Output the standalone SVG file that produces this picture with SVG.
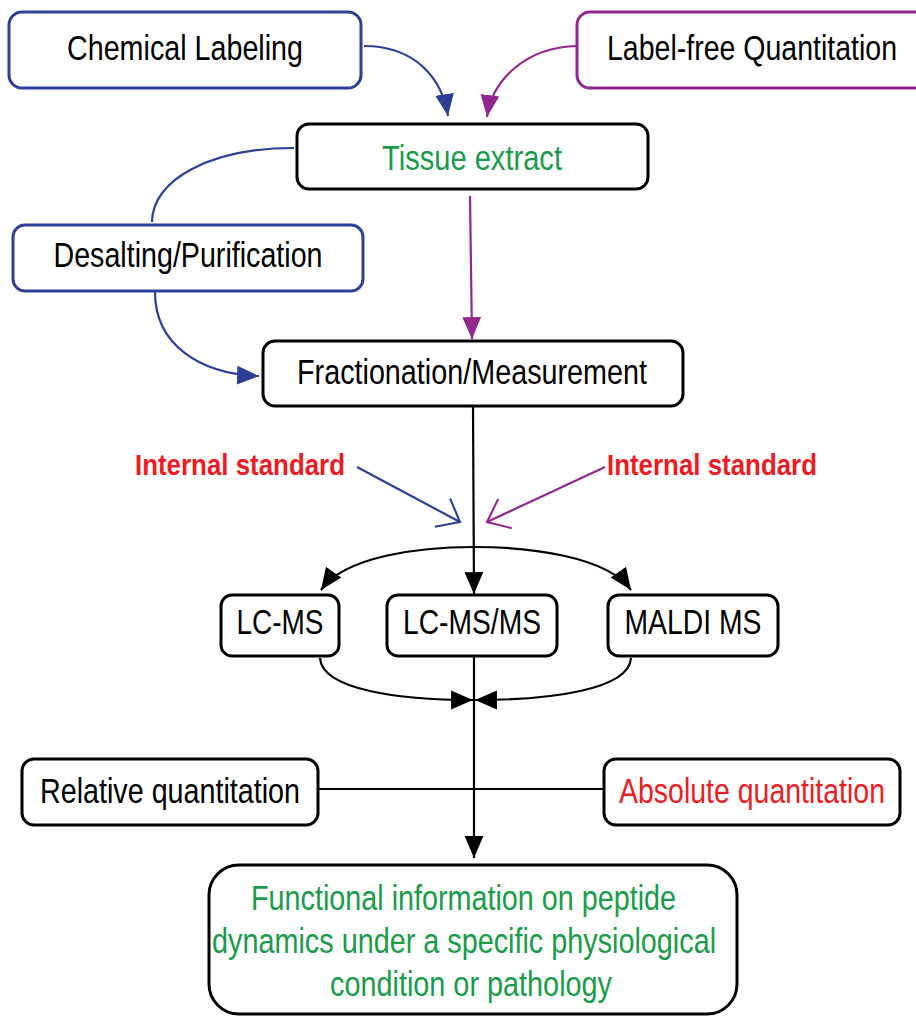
<svg xmlns="http://www.w3.org/2000/svg" width="916" height="1017" viewBox="0 0 916 1017">
<style>
.box{fill:#fff;stroke-width:3}
.k{stroke:#000}
.b{stroke:#2e3f98}
.p{stroke:#92278f}
.t{font-family:"Liberation Sans",Arial,sans-serif;font-size:35.5px;text-anchor:middle}
.is{font-family:"Liberation Sans",Arial,sans-serif;font-size:29px;font-weight:bold;text-anchor:middle;fill:#ed1c24}
.c{fill:none;stroke-width:2.2}
</style>
<defs>
<marker id="ak" markerUnits="userSpaceOnUse" markerWidth="24" markerHeight="24" viewBox="-21 -10 23 20" refX="0" refY="0" orient="auto-start-reverse"><path d="M-21,-9 L0,0 L-21,9 Z" fill="#000"/></marker>
<marker id="ab" markerUnits="userSpaceOnUse" markerWidth="24" markerHeight="24" viewBox="-21 -10 23 20" refX="0" refY="0" orient="auto"><path d="M-21,-9 L0,0 L-21,9 Z" fill="#2e3f98"/></marker>
<marker id="ap" markerUnits="userSpaceOnUse" markerWidth="24" markerHeight="24" viewBox="-21 -10 23 20" refX="0" refY="0" orient="auto"><path d="M-21,-9 L0,0 L-21,9 Z" fill="#92278f"/></marker>
<marker id="ob" markerUnits="userSpaceOnUse" markerWidth="34" markerHeight="34" viewBox="-26 -18 28 36" refX="0" refY="0" orient="auto"><path d="M-21,-17 L0,0 L-21,17" fill="none" stroke="#2e3f98" stroke-width="2.2"/></marker>
<marker id="op" markerUnits="userSpaceOnUse" markerWidth="34" markerHeight="34" viewBox="-26 -18 28 36" refX="0" refY="0" orient="auto"><path d="M-21,-17 L0,0 L-21,17" fill="none" stroke="#92278f" stroke-width="2.2"/></marker>
</defs>

<g id="connectors">
<path class="c b" d="M364,46 C415,46 442,78 448,116" marker-end="url(#ab)"/>
<path class="c p" d="M577,46 C526,47 492,80 487,117" marker-end="url(#ap)"/>
<path class="c b" d="M294,148 C210,148 152,180 152,222"/>
<path class="c b" d="M155,292 C155,345 200,374 259,376" marker-end="url(#ab)"/>
<path class="c p" d="M470,196 L472,339" marker-end="url(#ap)"/>
<path class="c k" d="M473,407 L474,594" marker-end="url(#ak)"/>
<path class="c b" d="M357,467 L460,522" marker-end="url(#ob)"/>
<path class="c p" d="M605,467 L487,522" marker-end="url(#op)"/>
<path class="c k" d="M321,590 C345,556 420,547 474,547 C528,547 607,556 631,590" marker-start="url(#ak)" marker-end="url(#ak)"/>
<path class="c k" d="M320,658 C322,690 400,700 473,700" marker-end="url(#ak)"/>
<path class="c k" d="M631,658 C629,690 550,700 475,700" marker-end="url(#ak)"/>
<path class="c k" d="M474,656 L474,858" marker-end="url(#ak)"/>
<path class="c k" d="M318,789 L604,789"/>
</g>

<g id="chemical-labeling">
<rect class="box b" x="9" y="12" width="352" height="76" rx="13"/>
<text class="t" x="185" y="60" textLength="236" lengthAdjust="spacingAndGlyphs">Chemical Labeling</text>
</g>
<g id="label-free">
<rect class="box p" x="577" y="12" width="360" height="76" rx="13"/>
<text class="t" x="752" y="60" textLength="290" lengthAdjust="spacingAndGlyphs">Label-free Quantitation</text>
</g>
<g id="tissue-extract">
<rect class="box k" x="297" y="124" width="351" height="65" rx="12"/>
<text class="t" x="472" y="170" textLength="180" lengthAdjust="spacingAndGlyphs" fill="#1a9b4b">Tissue extract</text>
</g>
<g id="desalting">
<rect class="box b" x="13" y="225" width="350" height="66" rx="12"/>
<text class="t" x="188" y="267" textLength="269" lengthAdjust="spacingAndGlyphs">Desalting/Purification</text>
</g>
<g id="fractionation">
<rect class="box k" x="263" y="341" width="420" height="65" rx="12"/>
<text class="t" x="472" y="384" textLength="350" lengthAdjust="spacingAndGlyphs">Fractionation/Measurement</text>
</g>
<g id="internal-standard-left">
<text class="is" x="240" y="475" textLength="210" lengthAdjust="spacingAndGlyphs">Internal standard</text>
</g>
<g id="internal-standard-right">
<text class="is" x="712" y="475" textLength="210" lengthAdjust="spacingAndGlyphs">Internal standard</text>
</g>
<g id="lc-ms">
<rect class="box k" x="221" y="595" width="118" height="61" rx="11"/>
<text class="t" x="280" y="634" textLength="87" lengthAdjust="spacingAndGlyphs">LC-MS</text>
</g>
<g id="lc-ms-ms">
<rect class="box k" x="387" y="595" width="170" height="61" rx="11"/>
<text class="t" x="472" y="634" textLength="138" lengthAdjust="spacingAndGlyphs">LC-MS/MS</text>
</g>
<g id="maldi-ms">
<rect class="box k" x="608" y="595" width="170" height="61" rx="11"/>
<text class="t" x="693" y="634" textLength="137" lengthAdjust="spacingAndGlyphs">MALDI MS</text>
</g>
<g id="relative">
<rect class="box k" x="22" y="759" width="296" height="66" rx="12"/>
<text class="t" x="170" y="803" textLength="260" lengthAdjust="spacingAndGlyphs">Relative quantitation</text>
</g>
<g id="absolute">
<rect class="box k" x="604" y="759" width="296" height="66" rx="12"/>
<text class="t" x="752" y="803" textLength="266" lengthAdjust="spacingAndGlyphs" fill="#ed1c24">Absolute quantitation</text>
</g>
<g id="functional">
<rect class="box k" x="209" y="865" width="528" height="149" rx="30"/>
<text class="t" fill="#1a9b4b">
<tspan x="468.5" y="910" textLength="425" lengthAdjust="spacingAndGlyphs">Functional information on peptide</tspan>
<tspan x="469" y="953" textLength="504" lengthAdjust="spacingAndGlyphs">dynamics under a specific physiological</tspan>
<tspan x="471" y="996" textLength="282" lengthAdjust="spacingAndGlyphs">condition or pathology</tspan>
</text>
</g>
</svg>
